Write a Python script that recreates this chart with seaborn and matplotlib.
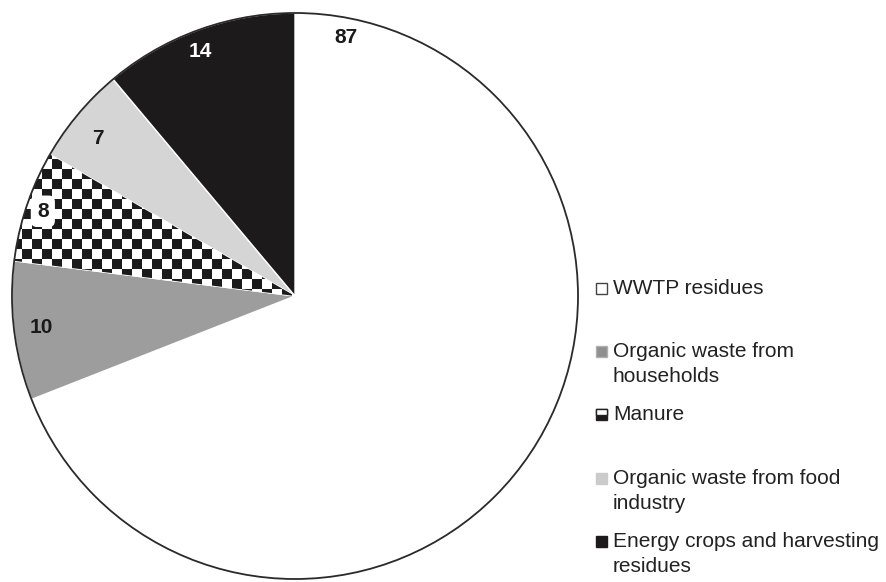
import numpy as np
import matplotlib
matplotlib.use("Agg")
import matplotlib.pyplot as plt
from matplotlib.patches import Circle, Rectangle
import seaborn as sns

# data
sources = ['WWTP residues', 'Organic waste from\nhouseholds', 'Manure',
           'Organic waste from food\nindustry', 'Energy crops and harvesting\nresidues']
values = [87, 10, 8, 7, 14]
slice_colors = ['#ffffff', '#9d9d9d', '#ffffff', '#d5d5d5', '#1c1a1a']
label_colors = ['#1a1a1a', '#1a1a1a', '#1a1a1a', '#1a1a1a', '#ffffff']

# where the number sits inside each slice (fraction of angular span, fraction of radius)
label_frac = [0.045, 0.5, 0.5, 0.43, 0.47]
label_rad = [0.93, 0.905, 0.94, 0.89, 0.925]

sns.set_theme(style="white")
plt.rcParams['font.family'] = ['Liberation Sans', 'DejaVu Sans']

W, H = 886, 582
fig = plt.figure(figsize=(W / 100, H / 100), dpi=100)
cx, cy, R = 295, 296, 283
ax = fig.add_axes([(cx - R) / W, (H - cy - R) / H, 2 * R / W, 2 * R / H])

wedges, _ = ax.pie(values, colors=slice_colors, startangle=90, counterclock=False,
                   radius=1, wedgeprops=dict(edgecolor='white', linewidth=1.0))

# checkerboard fill for manure
cell = 10 / R
n = int(np.ceil(2 / cell))
checker = (np.indices((n, n)).sum(axis=0) % 2).astype(float)
img = ax.imshow(checker, cmap='gray_r', extent=(-1, -1 + n * cell, -1, -1 + n * cell),
                interpolation='nearest', vmin=0, vmax=1.12, zorder=1.5)
img.set_clip_path(wedges[2])
ax.set_xlim(-1, 1)
ax.set_ylim(-1, 1)
ax.set_aspect('equal')
ax.axis('off')

ax.add_patch(Circle((0, 0), 1.0, fill=False, edgecolor='#2a2a2a', linewidth=1.3,
                    zorder=3, clip_on=False))

# slice numbers
for i, (w, v, fr, rr, c) in enumerate(zip(wedges, values, label_frac, label_rad, label_colors)):
    ang = np.deg2rad(w.theta2 - fr * (w.theta2 - w.theta1))
    bbox = dict(boxstyle='round,pad=0.3', fc='white', ec='none') if i == 2 else None
    ax.text(rr * np.cos(ang), rr * np.sin(ang), str(v), ha='center', va='center',
            fontsize=15, fontweight='bold', color=c, bbox=bbox, zorder=4)

# legend, drawn by hand so each entry keeps a fixed pitch
leg_base = [294, 357, 420, 484, 547]
line_step = 25
marker_fc = ['#ffffff', '#8f8f8f', None, '#cbcbcb', '#1c1a1a']
marker_ec = ['#444444', '#b0b0b0', '#222222', '#cbcbcb', '#1c1a1a']
for lab, yb, fc, ec in zip(sources, leg_base, marker_fc, marker_ec):
    x0, s = 596, 11
    if fc is None:
        fig.add_artist(Rectangle((x0 / W, (H - yb) / H), s / W, s / H,
                                 transform=fig.transFigure, fc='#1c1a1a', ec=ec, lw=1))
        fig.add_artist(Rectangle((x0 / W, (H - yb + s / 2) / H), s / W, s / 2 / H,
                                 transform=fig.transFigure, fc='white', ec=ec, lw=1))
    else:
        fig.add_artist(Rectangle((x0 / W, (H - yb) / H), s / W, s / H,
                                 transform=fig.transFigure, fc=fc, ec=ec, lw=1))
    for k, line in enumerate(lab.split('\n')):
        fig.text(613 / W, (H - yb - k * line_step) / H, line, ha='left', va='baseline',
                 fontsize=15, color='#222222')

fig.savefig('out.png', dpi=100)
